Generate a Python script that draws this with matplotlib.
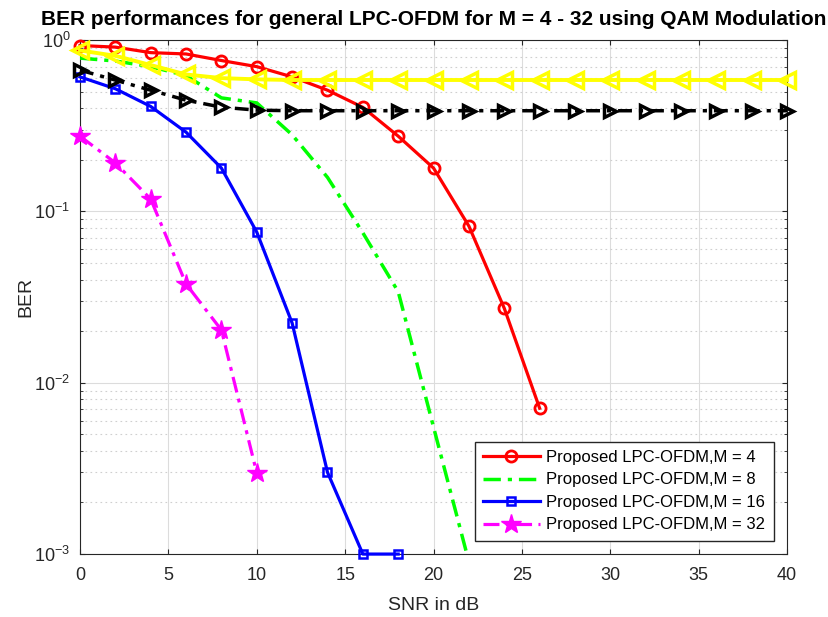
import numpy as np
import matplotlib
matplotlib.use('Agg')
import matplotlib.pyplot as plt
from matplotlib.ticker import LogLocator, NullFormatter

plt.rcParams['font.family'] = ['Liberation Sans', 'DejaVu Sans']

# dados
snr_m4 = [0, 2, 4, 6, 8, 10, 12, 14, 16, 18, 20, 22, 24, 26]
ber_m4 = [0.93, 0.91, 0.845, 0.83, 0.76, 0.70, 0.61, 0.51, 0.405, 0.275, 0.179, 0.082, 0.0272, 0.0071]

snr_m8 = [0, 2, 4, 6, 8, 10, 12, 14, 16, 18, 20, 22]
ber_m8 = [0.785, 0.755, 0.70, 0.62, 0.46, 0.43, 0.28, 0.158, 0.075, 0.034, 0.0055, 0.0009]

snr_m16 = [0, 2, 4, 6, 8, 10, 12, 14, 16, 18]
ber_m16 = [0.61, 0.52, 0.41, 0.29, 0.179, 0.0757, 0.0223, 0.0030, 0.001, 0.001]

snr_m32 = [0, 2, 4, 6, 8, 10]
ber_m32 = [0.275, 0.192, 0.118, 0.0377, 0.0203, 0.00297]

snr_full = list(range(0, 41, 2))
ber_amarelo = [0.87, 0.81, 0.715, 0.63, 0.60, 0.59] + [0.585] * 15
ber_preto = [0.668, 0.584, 0.51, 0.446, 0.406, 0.39] + [0.387] * 15

fig = plt.figure(figsize=(8.29, 6.17), dpi=100)
ax = fig.add_axes([0.0965, 0.102, 0.853, 0.833])

ax.plot(snr_m4, ber_m4, '-o', color='red', lw=2.3, ms=8, mfc='none', mew=2,
        label='Proposed LPC-OFDM,M = 4', clip_on=False, zorder=3)
ax.plot(snr_m8, ber_m8, color='#00ff00', lw=2.5, ls=(0, (5, 2, 1.2, 2)),
        label='Proposed LPC-OFDM,M = 8', zorder=3)
ax.plot(snr_m16, ber_m16, '-s', color='blue', lw=2.3, ms=6, mfc='none', mew=1.8,
        label='Proposed LPC-OFDM,M = 16', clip_on=False, zorder=3)
ax.plot(snr_m32, ber_m32, '*', color='magenta', lw=2.3, ms=15, ls=(0, (5, 2, 1.2, 2)),
        label='Proposed LPC-OFDM,M = 32', clip_on=False, zorder=3)
ax.plot(snr_full, ber_amarelo, '-<', color='yellow', lw=2.8, ms=11, mfc='none', mew=2.5,
        clip_on=False, zorder=4)
ax.plot(snr_full, ber_preto, '>', color='black', lw=2.5, ms=9, mfc='none', mew=2.5,
        ls=(0, (4, 2, 1.2, 2)), clip_on=False, zorder=4)

ax.set_yscale('log')
ax.set_xlim(0, 40)
ax.set_ylim(1e-3, 1)
ax.set_xticks(range(0, 41, 5))
ax.yaxis.set_major_locator(LogLocator(base=10, numticks=10))
ax.yaxis.set_minor_locator(LogLocator(base=10, subs=np.arange(2, 10), numticks=10))
ax.yaxis.set_minor_formatter(NullFormatter())

ax.grid(True, which='major', color='#dcdcdc', lw=0.8)
ax.grid(True, which='minor', axis='y', color='#cfcfcf', lw=0.8, ls=(0, (1.5, 3)))
ax.set_axisbelow(True)
ax.tick_params(which='both', direction='in', top=True, right=True, labelsize=13,
               colors='#262626')
ax.tick_params(axis='x', pad=9)
ax.tick_params(axis='y', pad=7)
for s in ax.spines.values():
    s.set_color('#262626')

ax.set_title('BER performances for general LPC-OFDM for M = 4 - 32 using QAM Modulation',
             fontsize=15, fontweight='bold', pad=11)
ax.set_xlabel('SNR in dB', fontsize=14, color='#262626', labelpad=10)
ax.set_ylabel('BER', fontsize=14, color='#262626', labelpad=0)

leg = ax.legend(loc='lower right', fontsize=12, frameon=True, fancybox=False,
                edgecolor='#262626', framealpha=1, handlelength=3.4,
                borderaxespad=0.8, labelspacing=0.45, handletextpad=0.4,
                borderpad=0.5)
leg.set_zorder(10)

plt.savefig('out.png', dpi=100)
